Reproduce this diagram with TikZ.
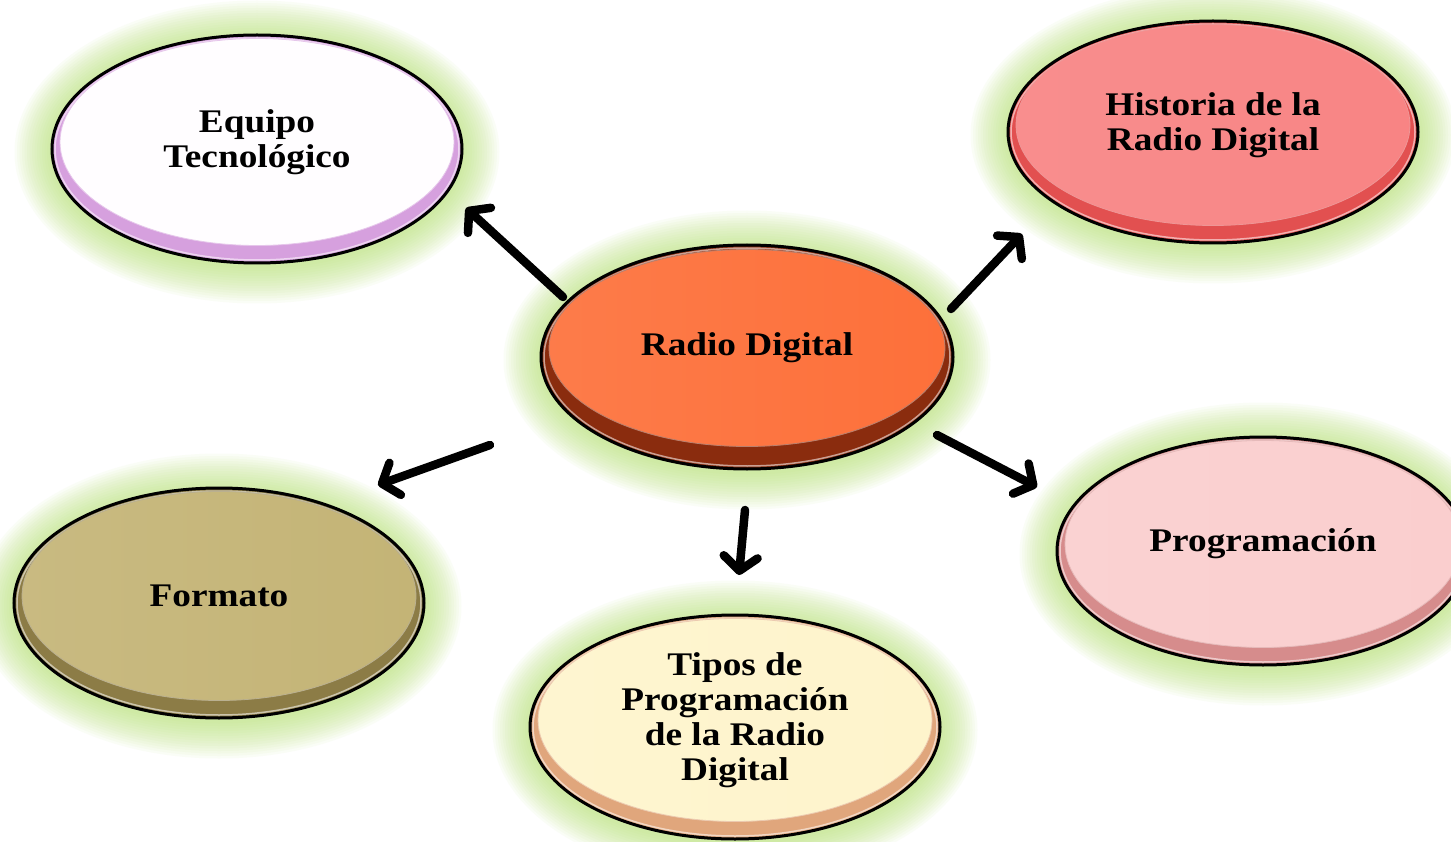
\documentclass[tikz,border=0pt]{standalone}
\usepackage{fontspec}
\newfontfamily\lblfont{Liberation Serif}[FakeStretch=1.13]
\usetikzlibrary{shapes.geometric,arrows.meta}
\definecolor{glowc}{RGB}{182,226,112}
\definecolor{faceA}{RGB}{255,253,255}\definecolor{rimA}{RGB}{214,160,222}
\definecolor{faceB}{RGB}{248,132,132}\definecolor{rimB}{RGB}{226,80,80}
\definecolor{faceC}{RGB}{253,112,58}\definecolor{rimC}{RGB}{138,44,14}
\definecolor{faceD}{RGB}{196,180,118}\definecolor{rimD}{RGB}{140,124,70}
\definecolor{faceE}{RGB}{254,244,204}\definecolor{rimE}{RGB}{224,166,124}
\definecolor{faceF}{RGB}{250,206,206}\definecolor{rimF}{RGB}{214,140,140}
\tikzset{
  label text/.style={font=\lblfont\bfseries\fontsize{33}{35}\selectfont, align=center, text=black},
  conn/.style={line width=8.5pt, line cap=round, line join=round,
    -{Straight Barb[length=14pt,width=34pt,line cap=round,line join=round]}},
}
% name, cx, cy, rx, ry, face, rim, text, face shift
\newcommand\mydisc[9]{%
  \foreach \k in {1,...,15}{\fill[glowc, opacity=0.06] (#2,#3+3) ellipse [x radius={#4pt+2.5pt*\k}, y radius={#5pt+2.5pt*\k}];}
  \fill[#7, draw=black, line width=3pt] (#2,#3) ellipse [x radius=#4pt, y radius=#5pt];
  \draw[white!55!#7, line width=1.5pt] (#2,#3) ellipse [x radius={#4pt-3pt}, y radius={#5pt-3pt}];
  \node[ellipse, left color=white!8!#6, right color=#6, draw=white!40!#7, line width=0.8pt,
        minimum width={2*#4pt-16pt}, minimum height={2*#5pt-3*#9pt}, inner sep=0pt, label text]
        (#1) at (#2,#3-#9) {#8};
}
\begin{document}
\begin{tikzpicture}[x=1pt,y=-1pt]
\useasboundingbox (0,0) rectangle (1451,842);
\clip (0,0) rectangle (1451,842);
\fill[white] (0,0) rectangle (1451,842);
\mydisc{equipo}{257}{149}{205}{114}{faceA}{rimA}{Equipo\\Tecnológico}{7}
\mydisc{historia}{1213}{132}{205}{111}{faceB}{rimB}{Historia de la\\Radio Digital}{7}
\mydisc{formato}{219}{603}{205}{115}{faceD}{rimD}{Formato}{7}
\mydisc{tipos}{735}{727}{205}{112}{faceE}{rimE}{Tipos de\\Programación\\de la Radio\\Digital}{7}
\mydisc{prog}{1263}{551}{206}{114}{faceF}{rimF}{Programación}{7}
\mydisc{radio}{747}{357}{206}{112}{faceC}{rimC}{Radio Digital}{9}
\coordinate (s1) at (563,297); \coordinate (e1) at (466,208);
\coordinate (s2) at (951,309); \coordinate (e2) at (1022,234);
\coordinate (s3) at (490,445); \coordinate (e3) at (378,485);
\coordinate (s4) at (745,510); \coordinate (e4) at (739,575);
\coordinate (s5) at (937,435); \coordinate (e5) at (1037,487);
\draw[conn] (s1) -- (e1);
\draw[conn] (s2) -- (e2);
\draw[conn] (s3) -- (e3);
\draw[conn] (s4) -- (e4);
\draw[conn] (s5) -- (e5);
\end{tikzpicture}
\end{document}
